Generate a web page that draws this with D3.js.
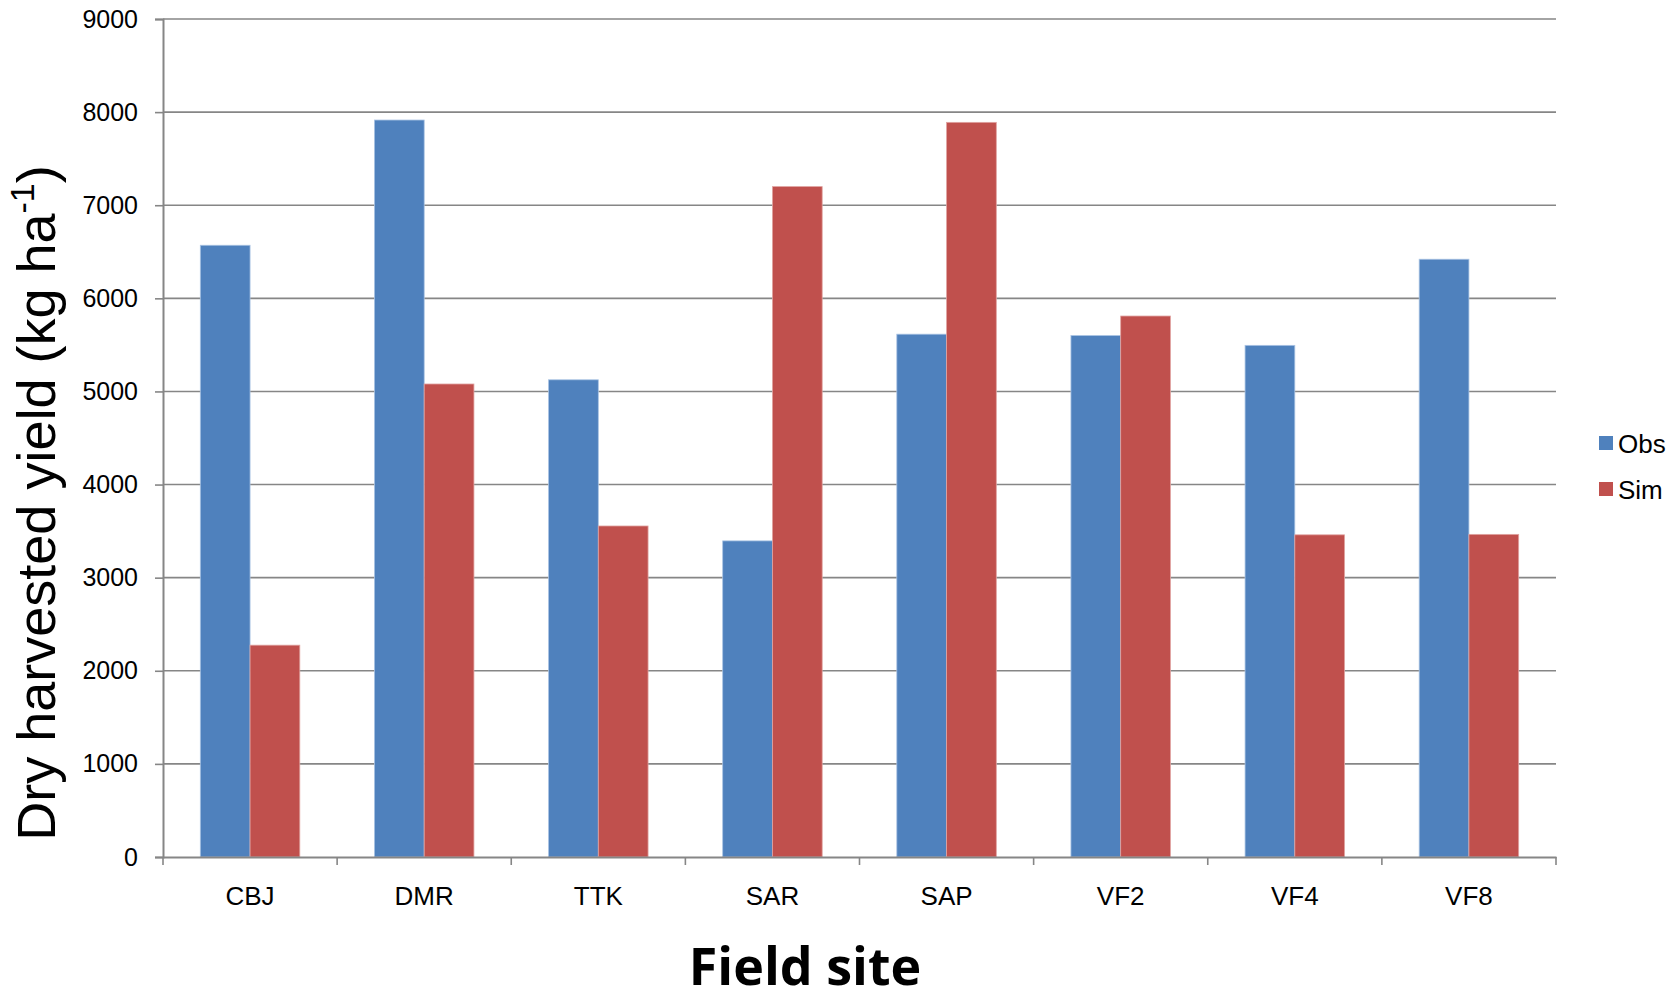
<!DOCTYPE html>
<html>
<head>
<meta charset="utf-8">
<script src="https://cdn.jsdelivr.net/npm/d3@7"></script>
<style>
  html, body { margin: 0; padding: 0; background: #fff; }
  svg { display: block; }
</style>
</head>
<body>
<svg id="chart" width="1680" height="993"></svg>
<script>
const categories = ["CBJ", "DMR", "TTK", "SAR", "SAP", "VF2", "VF4", "VF8"];
const seriesNames = ["Obs", "Sim"];
const obsValues = [6570, 7915, 5125, 3395, 5615, 5600, 5495, 6420];
const simValues = [2275, 5080, 3555, 7200, 7890, 5810, 3460, 3465];
const yTicks = [0, 1000, 2000, 3000, 4000, 5000, 6000, 7000, 8000, 9000];
const seriesColors = ["#4F81BD", "#C0504D"];

(function () {
const svg = d3.select("#chart");
const mLeft = 163, mRight = 1556, mTop = 19, mBottom = 857;

const x = d3.scaleBand().domain(categories).range([mLeft, mRight]).paddingInner(0).paddingOuter(0);
const y = d3.scaleLinear().domain([0, 9000]).range([mBottom, mTop]);
const inner = d3.scaleBand().domain(seriesNames).range([0, x.bandwidth()]).paddingInner(0).paddingOuter(0.75);

const gridColor = "#868686";

// gridlines
svg.append("g").selectAll("line").data(yTicks.filter(d => d > 0)).join("line")
  .attr("x1", mLeft).attr("x2", mRight)
  .attr("y1", d => y(d)).attr("y2", d => y(d))
  .attr("stroke", gridColor).attr("stroke-width", 1.6);

// bars
const data = categories.map((c, i) => ({cat: c, vals: [obsValues[i], simValues[i]]}));
const groups = svg.append("g").selectAll("g").data(data).join("g")
  .attr("transform", d => `translate(${x(d.cat)},0)`);
groups.selectAll("rect").data(d => d.vals.map((v, j) => ({name: seriesNames[j], v, j}))).join("rect")
  .attr("x", d => inner(d.name))
  .attr("width", inner.bandwidth())
  .attr("y", d => y(d.v))
  .attr("height", d => y(0) - y(d.v))
  .attr("fill", d => seriesColors[d.j])
  .attr("stroke", d => d.j === 0 ? "#a9c3e3" : "#e0a3a1")
  .attr("stroke-width", 0.8);

// y axis
const yAxis = d3.axisLeft(y).tickValues(yTicks).tickSize(8).tickPadding(17).tickFormat(d3.format("d"));
const gy = svg.append("g").attr("transform", `translate(${mLeft},0)`).call(yAxis);
gy.select(".domain").attr("stroke", gridColor).attr("stroke-width", 2);
gy.selectAll(".tick line").attr("stroke", gridColor).attr("stroke-width", 1.6);
gy.selectAll(".tick text").attr("font-family", "Liberation Sans, Arial, sans-serif").attr("font-size", 25).attr("fill", "#000");

// x axis
const xAxis = d3.axisBottom(x).tickSize(0).tickPadding(0);
const gx = svg.append("g").attr("transform", `translate(0,${mBottom})`).call(xAxis);
gx.select(".domain").attr("stroke", gridColor).attr("stroke-width", 2);
gx.selectAll(".tick text").attr("font-family", "Liberation Sans, Arial, sans-serif").attr("font-size", 26).attr("fill", "#000")
  .attr("dy", null).attr("y", 48);
const bounds = categories.map(c => x(c)).concat([mRight]);
gx.append("g").selectAll("line").data(bounds).join("line")
  .attr("x1", d => d).attr("x2", d => d).attr("y1", 0).attr("y2", 8)
  .attr("stroke", gridColor).attr("stroke-width", 1.6);

// y title
const yt = svg.append("text")
  .attr("transform", "translate(55,503) rotate(-90)")
  .attr("text-anchor", "middle")
  .attr("font-family", "Liberation Sans, Arial, sans-serif")
  .attr("font-size", 54)
  .attr("fill", "#000");
yt.append("tspan").text("Dry harvested yield (kg ha");
yt.append("tspan").text("-1").attr("font-size", 34).attr("dy", -21);
yt.append("tspan").text(")").attr("dy", 21);

// x title
svg.append("text")
  .attr("x", 805).attr("y", 985)
  .attr("text-anchor", "middle")
  .attr("font-family", "'Open Sans', Lato, sans-serif")
  .attr("font-weight", "bold")
  .attr("font-size", 52)
  .attr("fill", "#000")
  .text("Field site");

// legend
const legend = svg.append("g").selectAll("g").data(seriesNames).join("g")
  .attr("transform", (d, i) => `translate(1599,${436 + i * 46})`);
legend.append("rect").attr("width", 14).attr("height", 14).attr("fill", (d, i) => seriesColors[i]);
legend.append("text").attr("x", 19).attr("y", 17)
  .attr("font-family", "Liberation Sans, Arial, sans-serif").attr("font-size", 26).attr("fill", "#000")
  .text(d => d);
})();
</script>
</body>
</html>
